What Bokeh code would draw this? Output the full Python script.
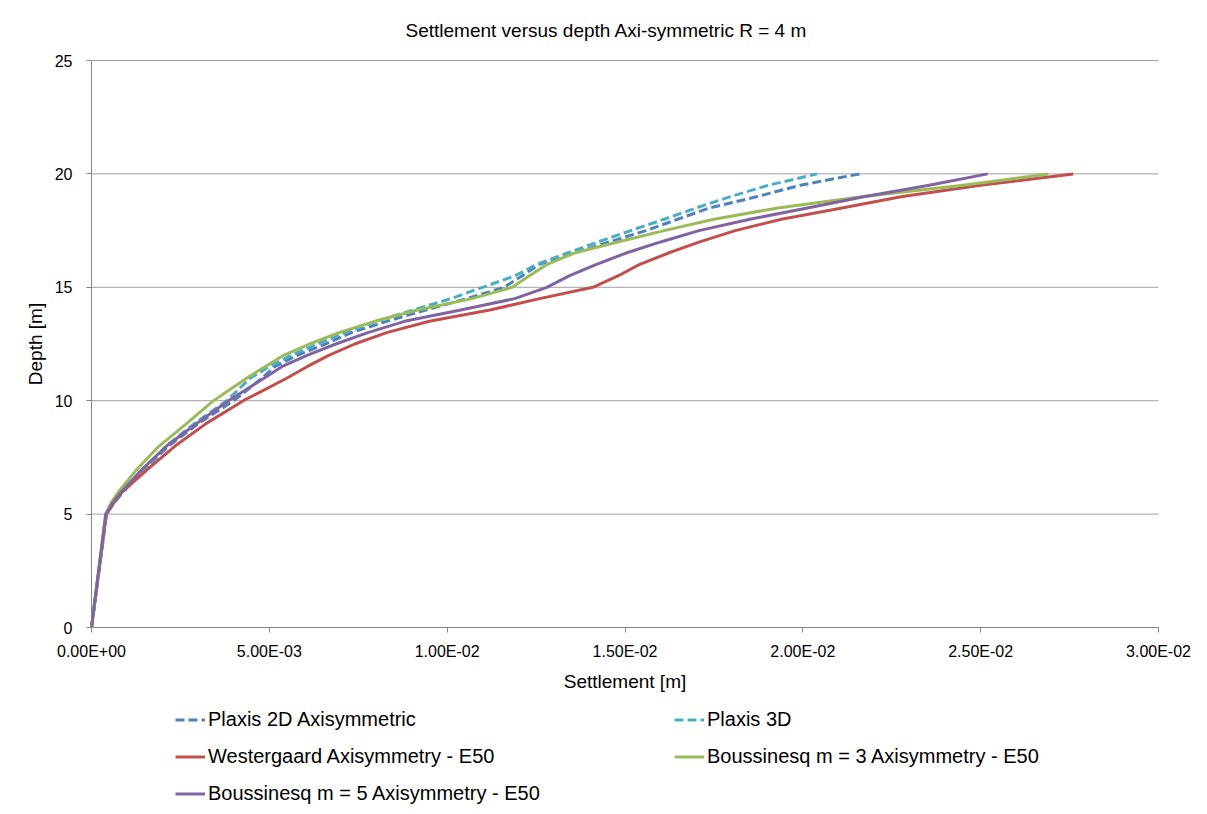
from bokeh.plotting import figure
from bokeh.models import Legend, LegendItem, FixedTicker, Range1d
from bokeh.embed import file_html
from bokeh.resources import INLINE

# ---- data ----
depth = [0, 5, 5.5, 6, 7, 8, 9, 10, 11, 11.5, 12, 12.5, 13, 13.5, 14, 14.5, 15, 15.5, 16, 16.5, 17, 17.5,
         18, 18.5, 19, 19.5, 20]

plaxis_2d = [0, 0.00042, 0.00063, 0.0009, 0.0015, 0.00217, 0.00301, 0.0040, 0.0048, 0.00515, 0.00578, 0.00658,
             0.0073, 0.0083, 0.0094, 0.01055, 0.0116, 0.0121, 0.01257, 0.01355, 0.01456, 0.01559, 0.01648,
             0.01738, 0.01872, 0.01993, 0.0216]
plaxis_3d = [0, 0.00042, 0.00063, 0.0009, 0.0015, 0.0021, 0.0029, 0.0038, 0.00447, 0.0050, 0.00561, 0.00635,
             0.00712, 0.0080, 0.00904, 0.0101, 0.0110, 0.0119, 0.0125, 0.01336, 0.01424, 0.01516, 0.0161,
             0.0170, 0.01797, 0.01903, 0.0204]
westergaard = [0, 0.00042, 0.00063, 0.00088, 0.0016, 0.00235, 0.00323, 0.00427, 0.0055, 0.00606, 0.00667, 0.0074,
               0.0083, 0.0095, 0.0112, 0.0126, 0.0141, 0.0148, 0.0154, 0.0162, 0.0171, 0.0181, 0.0194, 0.0211,
               0.0228, 0.0250, 0.0276]
boussinesq_m3 = [0, 0.0004, 0.00055, 0.00077, 0.00129, 0.0019, 0.00268, 0.00343, 0.00437, 0.00488, 0.0054, 0.00613,
                 0.00696, 0.00796, 0.00917, 0.0107, 0.01183, 0.0123, 0.0128, 0.01355, 0.0148, 0.0161, 0.0175,
                 0.0193, 0.0217, 0.0245, 0.0269]
boussinesq_m5 = [0, 0.0004, 0.0006, 0.00085, 0.00144, 0.00211, 0.00296, 0.00385, 0.00486, 0.00535, 0.00606, 0.00687,
                 0.00777, 0.0088, 0.01038, 0.0119, 0.0128, 0.01343, 0.01418, 0.01501, 0.0160, 0.01708, 0.01851,
                 0.02013, 0.02175, 0.02355, 0.0252]

series_names = ["Plaxis 2D Axisymmetric", "Plaxis 3D", "Westergaard Axisymmetry - E50",
                "Boussinesq m = 3 Axisymmetry - E50", "Boussinesq m = 5 Axisymmetry - E50"]

x_ticks = [0.0, 0.005, 0.01, 0.015, 0.02, 0.025, 0.03]
x_tick_labels = ["0.00E+00", "5.00E-03", "1.00E-02", "1.50E-02", "2.00E-02", "2.50E-02", "3.00E-02"]
y_ticks = [0, 5, 10, 15, 20, 25]

title_text = "Settlement versus depth Axi-symmetric R = 4 m"
x_label = "Settlement [m]"
y_label = "Depth [m]"

# ---- styling ----
FONT = "Liberation Sans"
colors = ["#4F81BD", "#4BACC6", "#C0504D", "#9BBB59", "#8064A2"]
dashes = ["9 4", "9 4", "solid", "solid", "solid"]

# The frame is larger than the data area so that the axes (pinned at 0) and the
# legend underneath can be drawn inside it without being clipped.
PX_X = 1067 / 0.03      # px per metre of settlement
PX_Y = 567 / 25         # px per metre of depth
x0 = -81 / PX_X
x1 = 0.03 + 42 / PX_X
y0 = -179 / PX_Y
y1 = 25 + 16 / PX_Y

p = figure(frame_width=1190, frame_height=762, output_backend="svg", toolbar_location=None,
           x_range=Range1d(x0, x1), y_range=Range1d(y0, y1),
           min_border_left=10, min_border_right=0, min_border_top=44, min_border_bottom=0,
           title=title_text)
p.background_fill_color = "white"
p.border_fill_color = "white"
p.outline_line_color = None

p.title.text_font = FONT
p.title.text_font_size = "19px"
p.title.text_font_style = "normal"
p.title.text_color = "#000000"
p.title.align = "left"
p.title.offset = 395
p.title.standoff = 8

for ax in (p.xaxis[0], p.yaxis[0]):
    ax.axis_line_color = "#868686"
    ax.axis_line_width = 1
    ax.major_tick_line_color = "#868686"
    ax.major_tick_out = 5
    ax.major_tick_in = 0
    ax.minor_tick_line_color = None
    ax.major_label_text_font = FONT
    ax.major_label_text_font_size = "16px"
    ax.major_label_text_color = "#000000"
    ax.axis_label_text_font = FONT
    ax.axis_label_text_font_size = "19px"
    ax.axis_label_text_font_style = "normal"
    ax.axis_label_text_color = "#000000"

p.xaxis.ticker = FixedTicker(ticks=x_ticks)
p.xaxis.major_label_overrides = {t: l for t, l in zip(x_ticks, x_tick_labels)}
p.xaxis.major_label_standoff = 10
p.xaxis.axis_label = x_label
p.xaxis.axis_label_standoff = 8
p.xaxis.fixed_location = 0
p.xaxis.bounds = (x_ticks[0], x_ticks[-1])

p.yaxis.ticker = FixedTicker(ticks=y_ticks)
p.yaxis.major_label_standoff = 14
p.yaxis.axis_label = y_label
p.yaxis.axis_label_standoff = 6
p.yaxis.fixed_location = 0
p.yaxis.bounds = (y_ticks[0], y_ticks[-1])

# horizontal gridlines only across the data area
p.xgrid.grid_line_color = None
p.ygrid.grid_line_color = None
grid_y = y_ticks[1:]
p.segment(x0=[x_ticks[0]] * len(grid_y), x1=[x_ticks[-1]] * len(grid_y), y0=grid_y, y1=grid_y,
          line_color="#A0A0A0", line_width=1)

all_series = [plaxis_2d, plaxis_3d, westergaard, boussinesq_m3, boussinesq_m5]
renderers = []
for vals, c, d in zip(all_series, colors, dashes):
    r = p.line(vals, depth, line_color=c, line_width=3, line_dash=d, line_join="round")
    renderers.append(r)

# legend fills column by column: reorder so rows read as in the reference
order = [0, 2, 4, 1, 3]
items = [LegendItem(label=series_names[i], renderers=[renderers[i]]) for i in order]
legend = Legend(items=items, ncols=2, location=(165, 1),
                glyph_width=30, glyph_height=23, label_height=23, label_width=452,
                label_standoff=3, spacing=14, padding=0, margin=0,
                border_line_color=None, background_fill_alpha=0,
                label_text_font=FONT, label_text_font_size="20px", label_text_color="#000000")
p.add_layout(legend, "center")

open("out.html", "w").write(file_html(p, INLINE))
